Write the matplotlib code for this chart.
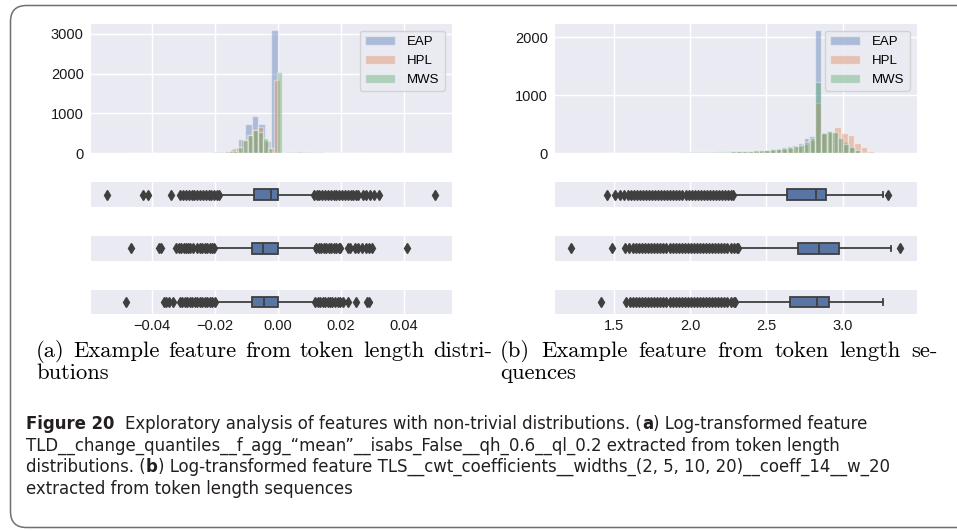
import numpy as np
import matplotlib
matplotlib.use('Agg')
import matplotlib.pyplot as plt
from matplotlib import font_manager
from matplotlib.font_manager import FontProperties
from matplotlib.patches import FancyBboxPatch
from matplotlib.transforms import IdentityTransform

W, H = 957, 531

labels = ['EAP', 'HPL', 'MWS']
hist_colors = ['#4C72B0', '#DD8452', '#55A868']

# (a) TLD feature: value range and 50 histogram counts per author
tld_eap_range = (-0.0543, 0.0499)
tld_eap_counts = [1, 0, 0, 0, 0, 1, 1, 0, 0, 1,
                  1, 3, 5, 8, 12, 18, 28, 45, 70, 140,
                  350, 733, 933, 725, 320, 3090, 8, 25, 45, 55,
                  45, 35, 22, 15, 10, 7, 5, 3, 1, 1,
                  1, 1, 0, 0, 0, 0, 0, 0, 0, 1]
tld_hpl_range = (-0.0467, 0.0408)
tld_hpl_counts = [1, 0, 0, 0, 0, 2, 0, 0, 3, 5,
                  6, 8, 10, 14, 18, 25, 40, 60, 100, 170,
                  340, 470, 580, 650, 340, 130, 1850, 10, 25, 35,
                  40, 35, 28, 20, 14, 10, 7, 5, 3, 2,
                  2, 2, 2, 2, 0, 0, 0, 0, 0, 1]
tld_mws_range = (-0.0483, 0.0292)
tld_mws_counts = [1, 0, 0, 0, 0, 0, 0, 0, 2, 1,
                  2, 4, 5, 7, 9, 11, 14, 18, 24, 35,
                  45, 55, 67, 167, 333, 458, 583, 542, 392, 125,
                  15, 2050, 10, 25, 35, 38, 32, 25, 18, 12,
                  9, 7, 5, 3, 3, 2, 1, 1, 0, 2]

# (a) boxplots: whislo, q1, median, q3, whishi + outliers
tld_eap_box = [-0.0188, -0.0077, -0.0024, 0.0000, 0.0113]
tld_hpl_box = [-0.0203, -0.0082, -0.0047, 0.0000, 0.0118]
tld_mws_box = [-0.0198, -0.0082, -0.0045, 0.0000, 0.0118]
tld_eap_fliers = [-0.0543, -0.0430, -0.0414, -0.0340,
                  -0.0312, -0.0302, -0.0293, -0.0284, -0.0275, -0.0266, -0.0257, -0.0248,
                  -0.0239, -0.0230, -0.0221, -0.0212, -0.0203, -0.0194, -0.0189,
                  0.0114, 0.0122, 0.0131, 0.0140, 0.0149, 0.0158, 0.0167, 0.0176, 0.0185,
                  0.0194, 0.0203, 0.0212, 0.0221, 0.0230, 0.0239, 0.0247, 0.0254,
                  0.0268, 0.0280, 0.0291, 0.0305, 0.0320, 0.0499]
tld_hpl_fliers = [-0.0467, -0.0378, -0.0372,
                  -0.0324, -0.0316, -0.0308, -0.0300, -0.0292, -0.0285,
                  -0.0279, -0.0269,
                  -0.0257, -0.0249, -0.0241, -0.0233, -0.0225, -0.0217, -0.0210, -0.0204,
                  0.0121, 0.0129, 0.0137, 0.0145, 0.0153, 0.0161, 0.0169, 0.0177, 0.0185,
                  0.0192, 0.0197,
                  0.0223, 0.0229, 0.0245, 0.0255, 0.0266, 0.0280, 0.0290, 0.0297, 0.0408]
tld_mws_fliers = [-0.0483, -0.0361, -0.0355, -0.0348, -0.0333,
                  -0.0313, -0.0305, -0.0297, -0.0289, -0.0281, -0.0273, -0.0265, -0.0257,
                  -0.0249, -0.0241, -0.0233, -0.0225, -0.0217, -0.0209, -0.0201,
                  0.0118, 0.0126, 0.0134, 0.0142, 0.0150, 0.0158, 0.0165, 0.0171,
                  0.0181, 0.0189, 0.0197, 0.0205, 0.0223, 0.0247, 0.0281, 0.0290]

# (b) TLS feature: value range and 50 histogram counts per author
tls_eap_range = (1.457, 3.297)
tls_eap_counts = [1, 1, 1, 2, 2, 3, 4, 5, 6, 8,
                  9, 11, 13, 15, 18, 21, 24, 27, 30, 33,
                  34, 35, 36, 37, 38, 39, 40, 50, 60, 78,
                  88, 100, 126, 143, 183, 258, 298, 2120, 370, 390,
                  375, 280, 190, 120, 60, 25, 10, 4, 2, 1]
tls_hpl_range = (1.222, 3.378)
tls_hpl_counts = [1, 0, 0, 0, 0, 0, 1, 0, 1, 2,
                  2, 3, 4, 5, 6, 8, 9, 11, 13, 15,
                  17, 19, 22, 25, 28, 32, 36, 40, 45, 52,
                  60, 70, 82, 98, 120, 160, 230, 860, 350, 370,
                  460, 356, 316, 172, 100, 40, 12, 4, 1, 1]
tls_mws_range = (1.413, 3.265)
tls_mws_counts = [1, 0, 0, 0, 0, 1, 2, 2, 3, 4,
                  5, 6, 8, 9, 11, 13, 15, 17, 19, 21,
                  24, 27, 30, 33, 37, 41, 46, 51, 57, 64,
                  72, 82, 95, 110, 128, 150, 190, 264, 1220, 356,
                  384, 370, 264, 160, 115, 60, 20, 5, 2, 1]

# (b) boxplots
tls_eap_box = [2.284, 2.637, 2.825, 2.890, 3.265]
tls_hpl_box = [2.317, 2.709, 2.844, 2.977, 3.315]
tls_mws_box = [2.295, 2.655, 2.829, 2.912, 3.265]
tls_eap_fliers = [1.457, 1.505, 1.540, 1.565, 1.590, 1.610, 1.630, 1.650, 1.670, 1.690,
                  1.710, 1.730, 1.750, 1.770, 1.790, 1.810, 1.830, 1.850, 1.870, 1.890,
                  1.910, 1.930, 1.950, 1.970, 1.990, 2.010, 2.030, 2.050, 2.070, 2.090,
                  2.110, 2.130, 2.150, 2.170, 2.190, 2.210, 2.230, 2.250, 2.270, 2.282,
                  3.297]
tls_hpl_fliers = [1.222, 1.491, 1.570, 1.600, 1.625, 1.645, 1.665, 1.685, 1.705, 1.725,
                  1.745, 1.765, 1.785, 1.805, 1.825, 1.845, 1.865, 1.885, 1.905, 1.925,
                  1.945, 1.965, 1.985, 2.005, 2.025, 2.045, 2.065, 2.085, 2.105, 2.125,
                  2.145, 2.165, 2.185, 2.205, 2.225, 2.245, 2.265, 2.285, 2.305, 2.315,
                  3.378]
tls_mws_fliers = [1.413, 1.580, 1.605, 1.625, 1.645, 1.665, 1.685, 1.705, 1.725, 1.745,
                  1.765, 1.785, 1.805, 1.825, 1.845, 1.865, 1.885, 1.905, 1.925, 1.945,
                  1.965, 1.985, 2.005, 2.025, 2.045, 2.065, 2.085, 2.105, 2.125, 2.145,
                  2.165, 2.185, 2.205, 2.225, 2.245, 2.265, 2.285, 2.293]

tld_xticks = [-0.04, -0.02, 0.0, 0.02, 0.04]
tls_xticks = [1.5, 2.0, 2.5, 3.0]
tld_yticks = [0, 1000, 2000, 3000]
tls_yticks = [0, 1000, 2000]

sub_a = ['(a) Example feature from token length distri-', 'butions']
sub_b = ['(b) Example feature from token length se-', 'quences']
caption = [
    [('Figure 20', True), ('Exploratory analysis of features with non-trivial distributions. (', False),
     ('a', True), (') Log-transformed feature', False)],
    [('TLD__change_quantiles__f_agg_\u201cmean\u201d__isabs_False__qh_0.6__ql_0.2 extracted from token length', False)],
    [('distributions. (', False), ('b', True),
     (') Log-transformed feature TLS__cwt_coefficients__widths_(2, 5, 10, 20)__coeff_14__w_20', False)],
    [('extracted from token length sequences', False)],
]

plt.rcParams.update({
    'font.family': ['Liberation Sans', 'DejaVu Sans'],
    'font.size': 10.5,
    'axes.facecolor': '#EAEAF2',
    'axes.edgecolor': 'white',
    'axes.grid': True,
    'axes.axisbelow': True,
    'grid.color': 'white',
    'grid.linewidth': 1.0,
    'xtick.major.size': 0,
    'ytick.major.size': 0,
    'xtick.labelsize': 10.5,
    'ytick.labelsize': 10.5,
    'xtick.color': '#1a1a1a',
    'ytick.color': '#1a1a1a',
    'xtick.major.pad': 3,
    'ytick.major.pad': 5,
})

fig = plt.figure(figsize=(W / 100, H / 100), dpi=100)


def px_axes(x0, y0, x1, y1, **kw):
    return fig.add_axes([x0 / W, 1 - y1 / H, (x1 - x0) / W, (y1 - y0) / H], **kw)


def draw_hist(ax, rng, counts, color, label):
    edges = np.linspace(rng[0], rng[1], len(counts) + 1)
    ax.bar(edges[:-1], counts, width=np.diff(edges), align='edge', color=color,
           alpha=0.4, edgecolor='white', linewidth=1.0, label=label)


def draw_box(ax, five, fliers):
    stats = [dict(whislo=five[0], q1=five[1], med=five[2], q3=five[3], whishi=five[4], fliers=fliers)]
    dark = '#3f3f3f'
    ax.bxp(stats, positions=[0], widths=0.43, orientation='horizontal', patch_artist=True,
           boxprops=dict(facecolor='#5875A4', edgecolor=dark, linewidth=1.3),
           medianprops=dict(color=dark, linewidth=1.3),
           whiskerprops=dict(color=dark, linewidth=1.3),
           capprops=dict(color=dark, linewidth=1.3),
           flierprops=dict(marker='d', markersize=5.5, markerfacecolor=dark,
                           markeredgecolor=dark, linestyle='none'))
    ax.set_ylim(0.5, -0.5)
    ax.set_yticks([])
    ax.grid(axis='y', visible=False)
    for s in ax.spines.values():
        s.set_visible(False)


def panel(x0, x1, ranges, counts, boxes, fliers, xticks, yticks):
    ax_h = px_axes(x0, 24, x1, 153.3)
    for rng, cnt, c, lab in zip(ranges, counts, hist_colors, labels):
        draw_hist(ax_h, rng, cnt, c, lab)
    ax_h.set_yticks(yticks)
    ax_h.tick_params(labelbottom=False)
    for s in ax_h.spines.values():
        s.set_visible(False)
    ax_h.legend(loc='upper right', fontsize=9.5, facecolor='#EAEAF2', edgecolor='0.8',
                framealpha=0.8, handlelength=2.3, labelspacing=0.5, handletextpad=0.9)
    rows = [(182.3, 207.0), (236.0, 260.7), (289.6, 314.4)]
    box_axes = []
    for (t, b), five, fl in zip(rows, boxes, fliers):
        ax_b = px_axes(x0, t, x1, b, sharex=ax_h)
        draw_box(ax_b, five, fl)
        ax_b.tick_params(labelbottom=False)
        box_axes.append(ax_b)
    box_axes[-1].tick_params(labelbottom=True)
    ax_h.set_xticks(xticks)


panel(90.7, 451.7,
      [tld_eap_range, tld_hpl_range, tld_mws_range],
      [tld_eap_counts, tld_hpl_counts, tld_mws_counts],
      [tld_eap_box, tld_hpl_box, tld_mws_box],
      [tld_eap_fliers, tld_hpl_fliers, tld_mws_fliers],
      tld_xticks, tld_yticks)
panel(555.0, 916.7,
      [tls_eap_range, tls_hpl_range, tls_mws_range],
      [tls_eap_counts, tls_hpl_counts, tls_mws_counts],
      [tls_eap_box, tls_hpl_box, tls_mws_box],
      [tls_eap_fliers, tls_hpl_fliers, tls_mws_fliers],
      tls_xticks, tls_yticks)

# outer rounded frame (open on the right side, like the cropped page)
frame = FancyBboxPatch((10.5, 3.5), 1000, H - 3.5 - 5.5,
                       boxstyle='round,pad=0,rounding_size=16',
                       transform=IdentityTransform(), fill=False,
                       edgecolor='#707070', linewidth=1.1)
fig.add_artist(frame)

rend = fig.canvas.get_renderer()


def text_w(s, **kw):
    t = fig.text(0, 0, s, **kw)
    w = t.get_window_extent(renderer=rend).width
    t.remove()
    return w


# sub-captions in a Computer Modern look, justified like LaTeX
sub_kw = dict(family='cmr10', color='black')
sub_fs = 10 * 450 / text_w(sub_a[0], fontsize=10, **sub_kw)


def justified(line, x0, x1, y):
    words = line.split()
    widths = [text_w(w, fontsize=sub_fs, **sub_kw) for w in words]
    gap = (x1 - x0 - sum(widths)) / (len(words) - 1)
    x = x0
    for w, ww in zip(words, widths):
        fig.text(x / W, 1 - y / H, w, fontsize=sub_fs, va='baseline', ha='left', **sub_kw)
        x += ww + gap


justified(sub_a[0], 36, 492, 357)
fig.text(36 / W, 1 - 379 / H, sub_a[1], fontsize=sub_fs, va='baseline', **sub_kw)
justified(sub_b[0], 500, 938, 357)
fig.text(500 / W, 1 - 379 / H, sub_b[1], fontsize=sub_fs, va='baseline', **sub_kw)

# caption font: prefer a condensed sans if one is installed
cap_base = dict(family='Liberation Sans')
for fam, st in [('Liberation Sans Narrow', 'normal'), ('DejaVu Sans', 'condensed'),
                ('DejaVu Sans Condensed', 'normal'), ('Roboto Condensed', 'normal')]:
    try:
        path = font_manager.findfont(FontProperties(family=fam, stretch=st), fallback_to_default=False)
    except ValueError:
        continue
    if 'Narrow' in path or 'Condensed' in path:
        cap_base = dict(family=fam, stretch=st)
        break

cap_color = '#231F20'
space_px = 11


def seg_width(segs, fs):
    total = 0
    for s, bold in segs:
        total += text_w(s, fontsize=fs, fontweight='bold' if bold else 'normal', **cap_base)
    return total


cap_fs = 10 * (842 - space_px) / seg_width(caption[0], 10)
cap_y = [429, 450.5, 472, 493.5]
for segs, y in zip(caption, cap_y):
    x = 26
    for s, bold in segs:
        kw = dict(fontsize=cap_fs, fontweight='bold' if bold else 'normal', color=cap_color, **cap_base)
        fig.text(x / W, 1 - y / H, s, va='baseline', ha='left', **kw)
        x += text_w(s, **kw)
        if s == 'Figure 20':
            x += space_px

fig.savefig('out.png', dpi=100)
